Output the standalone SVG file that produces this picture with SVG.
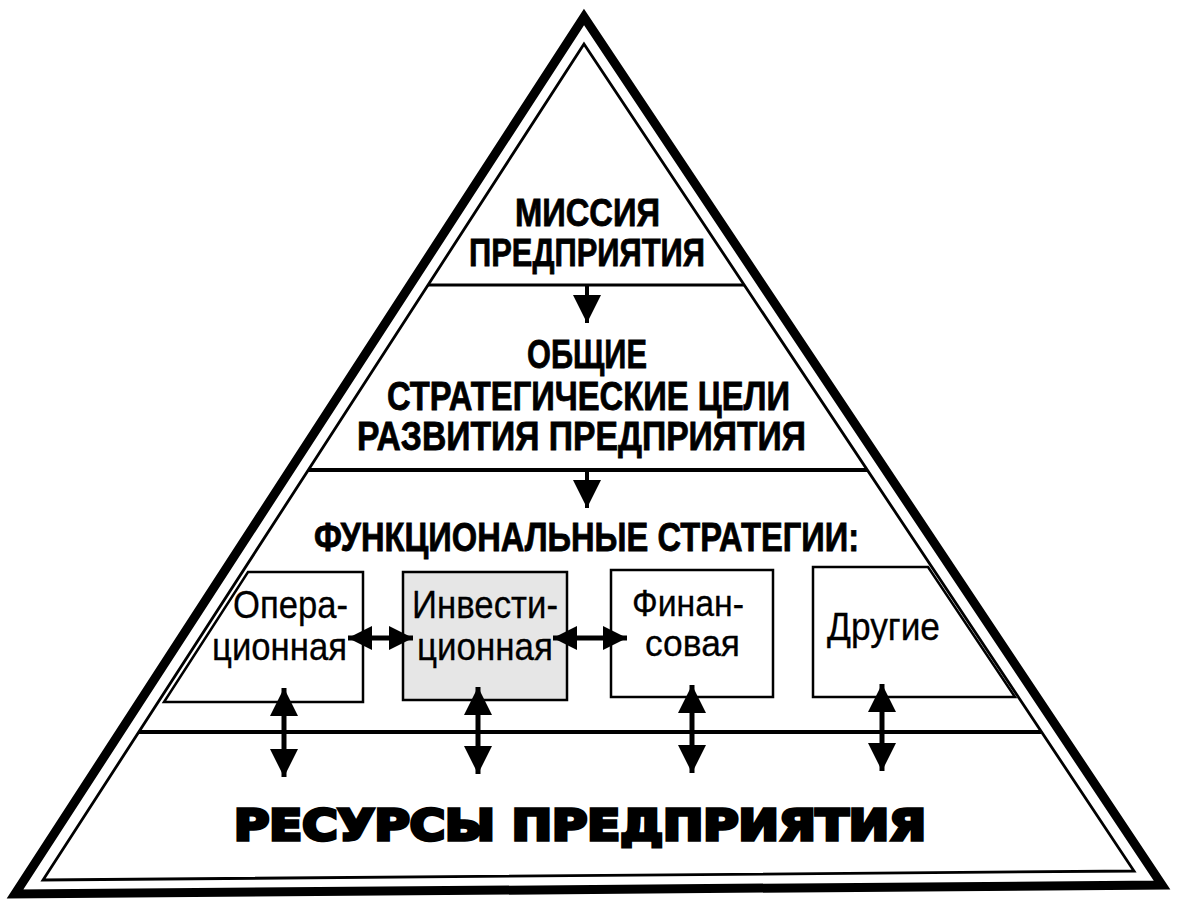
<svg xmlns="http://www.w3.org/2000/svg" width="1179" height="916" viewBox="0 0 1179 916">
<style>
  .hd { font-family: "Liberation Sans Narrow", "Liberation Sans", Arial, sans-serif; font-weight: bold; fill: #000; stroke: #000; stroke-width: 0.8; }
  .bx { font-family: "Liberation Sans Narrow", "Liberation Sans", Arial, sans-serif; font-weight: normal; fill: #000; stroke: #000; stroke-width: 0.3; }
  .res { font-family: "DejaVu Sans", "Liberation Sans", sans-serif; font-weight: bold; fill: #000; stroke: #000; stroke-width: 3.5; stroke-linejoin: miter; }
  .box { fill: #fff; stroke: #000; stroke-width: 2.5; }
  .div { stroke: #000; fill: none; }
  .arr { stroke: #000; fill: none; }
</style>
<defs>
  <marker id="headL" viewBox="0 0 10 10" refX="10" refY="5" markerUnits="userSpaceOnUse" markerWidth="28" markerHeight="30" orient="auto-start-reverse">
    <path d="M0,0 L10,5 L0,10 Z" fill="#000"/>
  </marker>
  <marker id="headS" viewBox="0 0 10 10" refX="10" refY="5" markerUnits="userSpaceOnUse" markerWidth="24" markerHeight="28" orient="auto-start-reverse">
    <path d="M0,0 L10,5 L0,10 Z" fill="#000"/>
  </marker>
</defs>
<rect x="0" y="0" width="1179" height="916" fill="#fff"/>

<g id="frame">
  <polygon points="584,17 15,894 1162,885" fill="none" stroke="#000" stroke-width="9" stroke-linejoin="miter" stroke-miterlimit="10"/>
  <polygon points="584,44 43,880 1134,871" fill="none" stroke="#000" stroke-width="2.8" stroke-linejoin="miter" stroke-miterlimit="10"/>
  <line class="div" x1="428" y1="285" x2="744" y2="285" stroke-width="3"/>
  <line class="div" x1="308" y1="470" x2="867" y2="470" stroke-width="4"/>
  <line class="div" x1="139" y1="732" x2="1041" y2="732" stroke-width="4"/>
</g>

<g id="mission">
  <text class="hd" x="515" y="226" font-size="39" textLength="145" lengthAdjust="spacingAndGlyphs">МИССИЯ</text>
  <text class="hd" x="469" y="266" font-size="39" textLength="236" lengthAdjust="spacingAndGlyphs">ПРЕДПРИЯТИЯ</text>
</g>

<g id="goals">
  <text class="hd" x="527" y="368" font-size="40" textLength="120" lengthAdjust="spacingAndGlyphs">ОБЩИЕ</text>
  <text class="hd" x="387" y="410" font-size="40" textLength="403" lengthAdjust="spacingAndGlyphs">СТРАТЕГИЧЕСКИЕ ЦЕЛИ</text>
  <text class="hd" x="357" y="450" font-size="40" textLength="449" lengthAdjust="spacingAndGlyphs">РАЗВИТИЯ ПРЕДПРИЯТИЯ</text>
</g>

<g id="functional">
  <text class="hd" x="314" y="551" font-size="40" textLength="545" lengthAdjust="spacingAndGlyphs">ФУНКЦИОНАЛЬНЫЕ СТРАТЕГИИ:</text>
</g>

<g id="operational">
  <polygon class="box" points="248,572 363,572 363,702 164,702"/>
  <text class="bx" x="233" y="618" font-size="39" textLength="115" lengthAdjust="spacingAndGlyphs">Опера-</text>
  <text class="bx" x="212" y="660" font-size="39" textLength="135" lengthAdjust="spacingAndGlyphs">ционная</text>
</g>

<g id="investment">
  <rect class="box" x="403" y="572" width="164" height="128" style="fill:#e6e6e6"/>
  <text class="bx" x="412" y="618" font-size="39" textLength="146" lengthAdjust="spacingAndGlyphs">Инвести-</text>
  <text class="bx" x="417" y="660" font-size="39" textLength="136" lengthAdjust="spacingAndGlyphs">ционная</text>
</g>

<g id="financial">
  <rect class="box" x="611" y="570" width="162" height="127"/>
  <text class="bx" x="632" y="616" font-size="37" textLength="112" lengthAdjust="spacingAndGlyphs">Финан-</text>
  <text class="bx" x="645" y="656" font-size="37" textLength="95" lengthAdjust="spacingAndGlyphs">совая</text>
</g>

<g id="other">
  <polygon class="box" points="813,567 928,567 1015,697 813,697"/>
  <text class="bx" x="827" y="640" font-size="39" textLength="113" lengthAdjust="spacingAndGlyphs">Другие</text>
</g>

<g id="resources">
  <text class="res" x="234" y="840" font-size="42" textLength="692" lengthAdjust="spacingAndGlyphs">РЕСУРСЫ ПРЕДПРИЯТИЯ</text>
</g>

<g id="connectors">
  <line class="arr" x1="587" y1="285" x2="587" y2="323" stroke-width="4" marker-end="url(#headL)"/>
  <line class="arr" x1="587" y1="470" x2="587" y2="508" stroke-width="4" marker-end="url(#headL)"/>
  <line class="arr" x1="348" y1="638" x2="413" y2="638" stroke-width="5" marker-start="url(#headS)" marker-end="url(#headS)"/>
  <line class="arr" x1="553" y1="638" x2="627" y2="638" stroke-width="5" marker-start="url(#headS)" marker-end="url(#headS)"/>
  <line class="arr" x1="284" y1="688" x2="284" y2="777" stroke-width="5" marker-start="url(#headL)" marker-end="url(#headL)"/>
  <line class="arr" x1="478" y1="687" x2="478" y2="774" stroke-width="5" marker-start="url(#headL)" marker-end="url(#headL)"/>
  <line class="arr" x1="692" y1="685" x2="692" y2="773" stroke-width="5" marker-start="url(#headL)" marker-end="url(#headL)"/>
  <line class="arr" x1="882" y1="684" x2="882" y2="771" stroke-width="5" marker-start="url(#headL)" marker-end="url(#headL)"/>
</g>
</svg>
